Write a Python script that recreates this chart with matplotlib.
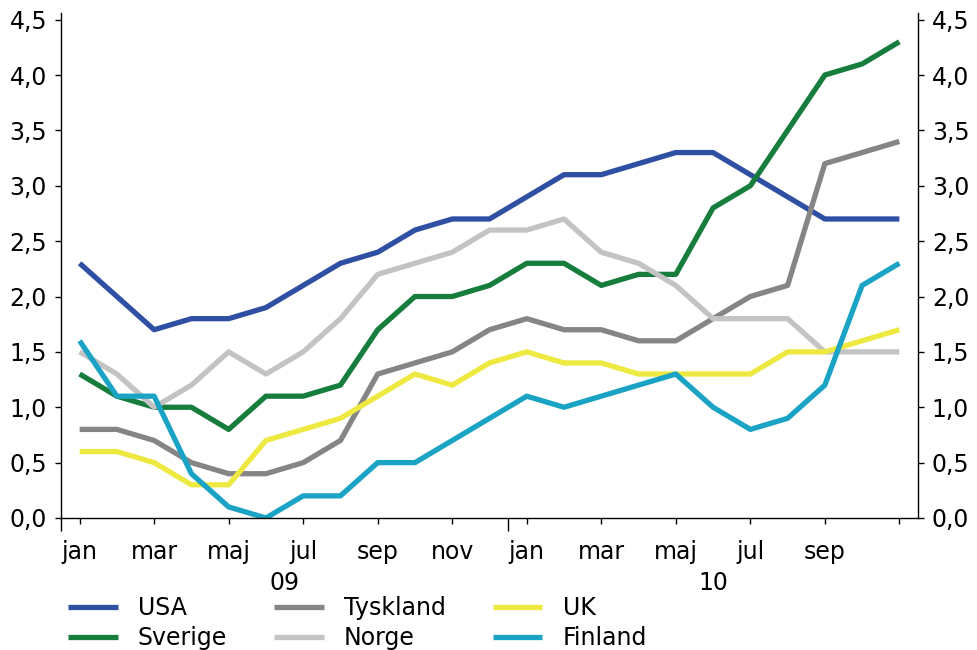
import numpy as np
import matplotlib
matplotlib.use('Agg')
import matplotlib.pyplot as plt

# monthly values jan 09 .. nov 10
months = ['jan', 'feb', 'mar', 'apr', 'maj', 'jun', 'jul', 'aug', 'sep', 'okt', 'nov', 'dec',
          'jan', 'feb', 'mar', 'apr', 'maj', 'jun', 'jul', 'aug', 'sep', 'okt', 'nov']
years = ['09', '10']

usa = [2.3, 2.0, 1.7, 1.8, 1.8, 1.9, 2.1, 2.3, 2.4, 2.6, 2.7, 2.7,
       2.9, 3.1, 3.1, 3.2, 3.3, 3.3, 3.1, 2.9, 2.7, 2.7, 2.7]
sverige = [1.3, 1.1, 1.0, 1.0, 0.8, 1.1, 1.1, 1.2, 1.7, 2.0, 2.0, 2.1,
           2.3, 2.3, 2.1, 2.2, 2.2, 2.8, 3.0, 3.5, 4.0, 4.1, 4.3]
tyskland = [0.8, 0.8, 0.7, 0.5, 0.4, 0.4, 0.5, 0.7, 1.3, 1.4, 1.5, 1.7,
            1.8, 1.7, 1.7, 1.6, 1.6, 1.8, 2.0, 2.1, 3.2, 3.3, 3.4]
norge = [1.5, 1.3, 1.0, 1.2, 1.5, 1.3, 1.5, 1.8, 2.2, 2.3, 2.4, 2.6,
         2.6, 2.7, 2.4, 2.3, 2.1, 1.8, 1.8, 1.8, 1.5, 1.5, 1.5]
uk = [0.6, 0.6, 0.5, 0.3, 0.3, 0.7, 0.8, 0.9, 1.1, 1.3, 1.2, 1.4,
      1.5, 1.4, 1.4, 1.3, 1.3, 1.3, 1.3, 1.5, 1.5, 1.6, 1.7]
finland = [1.6, 1.1, 1.1, 0.4, 0.1, 0.0, 0.2, 0.2, 0.5, 0.5, 0.7, 0.9,
           1.1, 1.0, 1.1, 1.2, 1.3, 1.0, 0.8, 0.9, 1.2, 2.1, 2.3]

series = [
    ('USA', usa, '#2f4fa2'),
    ('Sverige', sverige, '#167d3c'),
    ('Tyskland', tyskland, '#858585'),
    ('Norge', norge, '#c3c3c3'),
    ('UK', uk, '#eee941'),
    ('Finland', finland, '#1ba3c5'),
]

plt.rcParams['font.family'] = ['DejaVu Sans']
plt.rcParams['font.size'] = 17

fig = plt.figure(figsize=(9.77, 6.5), dpi=100)
ax = fig.add_axes([61 / 977, 1 - 518 / 650, (918 - 61) / 977, (518 - 13) / 650])

x = np.arange(len(months))
for name, vals, col in series:
    ax.plot(x, vals, color=col, lw=3.8, label=name, solid_capstyle='butt')

ax.set_xlim(-0.5, len(months) - 0.5)
ax.set_ylim(0, 4.56)

yt = np.arange(0, 4.51, 0.5)
ax.set_yticks(yt)
ax.set_yticklabels([f'{v:.1f}'.replace('.', ',') for v in yt])
ax.tick_params(axis='y', direction='out', length=4, width=1, left=True, right=True,
               labelleft=True, labelright=True, pad=6)

xt = x[::2]
ax.set_xticks(xt)
ax.set_xticklabels([months[i] if i < 22 else '' for i in xt])
ax.set_xticks([-0.5, 11.5], minor=True)
ax.tick_params(axis='x', which='major', direction='out', length=4.5, width=1, pad=11)
ax.tick_params(axis='x', which='minor', direction='out', length=9, width=1)

ax.spines['top'].set_visible(False)
for s in ['left', 'right', 'bottom']:
    ax.spines[s].set_linewidth(1)

ax.text(5.5, -0.128, years[0], transform=ax.get_xaxis_transform(), ha='center', va='center')
ax.text(17, -0.128, years[1], transform=ax.get_xaxis_transform(), ha='center', va='center')

fig.legend(loc='upper left', bbox_to_anchor=(68 / 977, 1 - 596 / 650), ncol=3,
           frameon=False, borderpad=0, handlelength=2.1, handletextpad=0.85,
           columnspacing=2.0, labelspacing=0.25, borderaxespad=0)

fig.savefig('out.png', dpi=100)
